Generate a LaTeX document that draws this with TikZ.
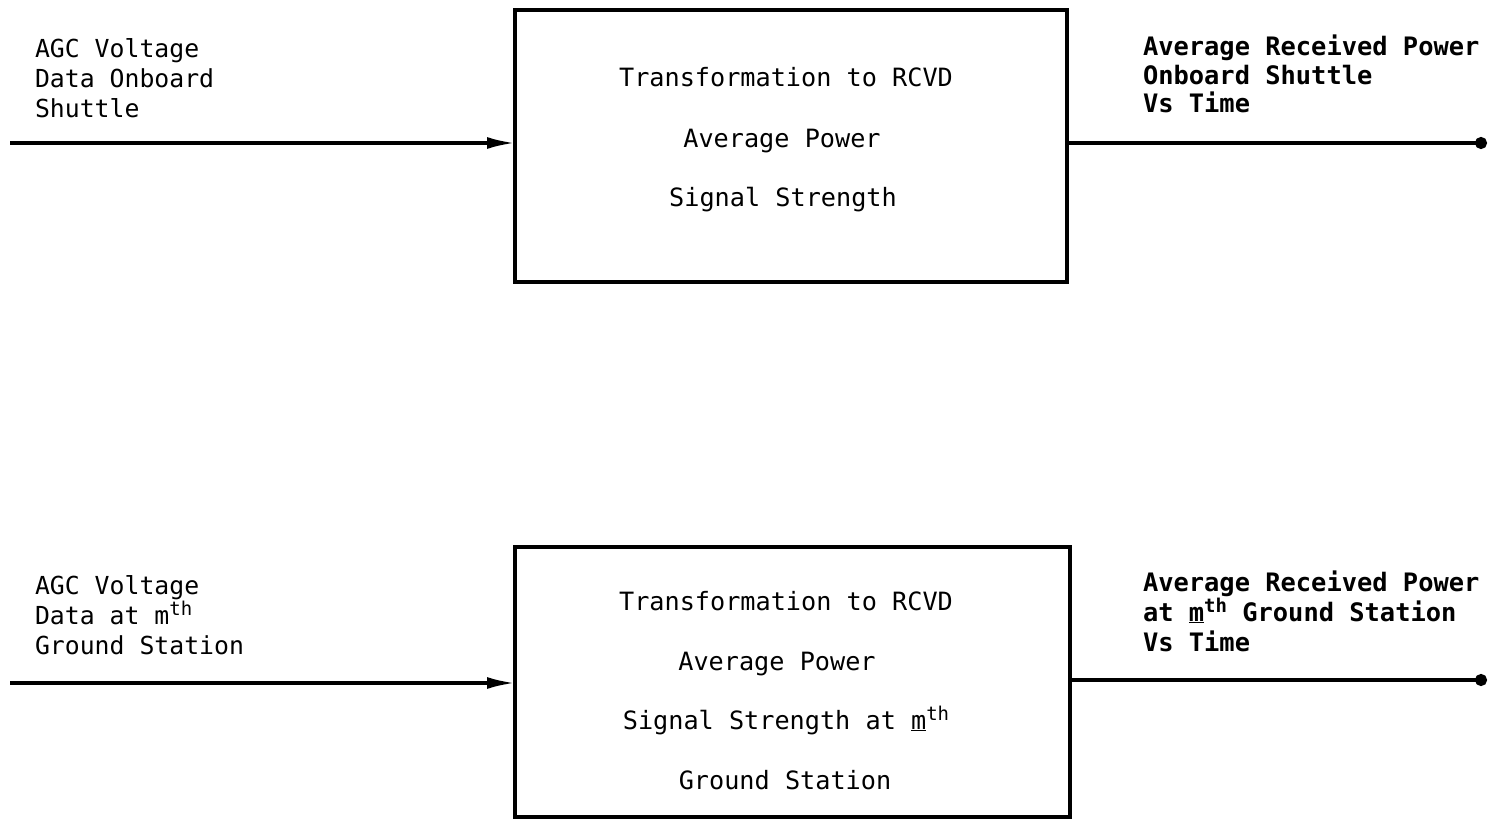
\documentclass[tikz,border=0pt]{standalone}
\usepackage{fontspec}
\setmonofont{DejaVu Sans Mono}
\usetikzlibrary{arrows.meta}
\newcommand{\mysup}[1]{\raisebox{9pt}{\fontsize{19}{19}\selectfont #1}}
\begin{document}
\begin{tikzpicture}[x=1pt,y=-1pt,
  every node/.style={inner sep=0pt,outer sep=0pt},
  lbl/.style={font=\ttfamily\fontsize{24.8}{30}\selectfont,anchor=base west},
  rlbl/.style={font=\ttfamily\bfseries\fontsize{25.4}{30}\selectfont,anchor=base west},
  boxtxt/.style={font=\ttfamily\fontsize{25.2}{30}\selectfont,anchor=base},
  block/.style={draw,line width=3.4pt},
  conn/.style={line width=3.4pt,-{Latex[length=28pt,width=12pt]}},
  outl/.style={line width=3.4pt,-{Circle[length=12pt]}}]
\useasboundingbox (0,0) rectangle (1490,819);

% ---------- top row ----------
\node[block,minimum width=552pt,minimum height=272pt] (box1) at (791,146) {};
\node[boxtxt] (b1a) at (786,86) {Transformation to RCVD};
\node[boxtxt] (b1b) at (782,147) {Average Power};
\node[boxtxt] (b1c) at (783,206) {Signal Strength};

\node[lbl] (l1a) at (35,57) {AGC Voltage};
\node[lbl] (l1b) at (35,87) {Data Onboard};
\node[lbl] (l1c) at (35,117) {Shuttle};

\node[rlbl] (r1a) at (1143,55) {Average Received Power};
\node[rlbl] (r1b) at (1143,84) {Onboard Shuttle};
\node[rlbl] (r1c) at (1143,112) {Vs Time};

\coordinate (in1) at (10,143);
\coordinate (out1) at (1487,143);
\draw[conn] (in1) -- (in1 -| box1.west);
\draw[outl] (box1.east |- out1) -- (out1);

% ---------- bottom row ----------
\node[block,minimum width=555pt,minimum height=270pt] (box2) at (792.5,682) {};
\node[boxtxt] (b2a) at (786,610) {Transformation to RCVD};
\node[boxtxt] (b2b) at (777,670) {Average Power};
\node[boxtxt] (b2c) at (786,729) {Signal Strength at \underline{m}\mysup{th}};
\node[boxtxt] (b2d) at (785,789) {Ground Station};

\node[lbl] (l2a) at (35,594) {AGC Voltage};
\node[lbl] (l2b) at (35,624) {Data at m\mysup{th}};
\node[lbl] (l2c) at (35,654) {Ground Station};

\node[rlbl] (r2a) at (1143,591) {Average Received Power};
\node[rlbl] (r2b) at (1143,621) {at \underline{m}\mysup{th} Ground Station};
\node[rlbl] (r2c) at (1143,651) {Vs Time};

\coordinate (in2) at (10,683);
\coordinate (out2) at (1487,680);
\draw[conn] (in2) -- (in2 -| box2.west);
\draw[outl] (box2.east |- out2) -- (out2);
\end{tikzpicture}
\end{document}
